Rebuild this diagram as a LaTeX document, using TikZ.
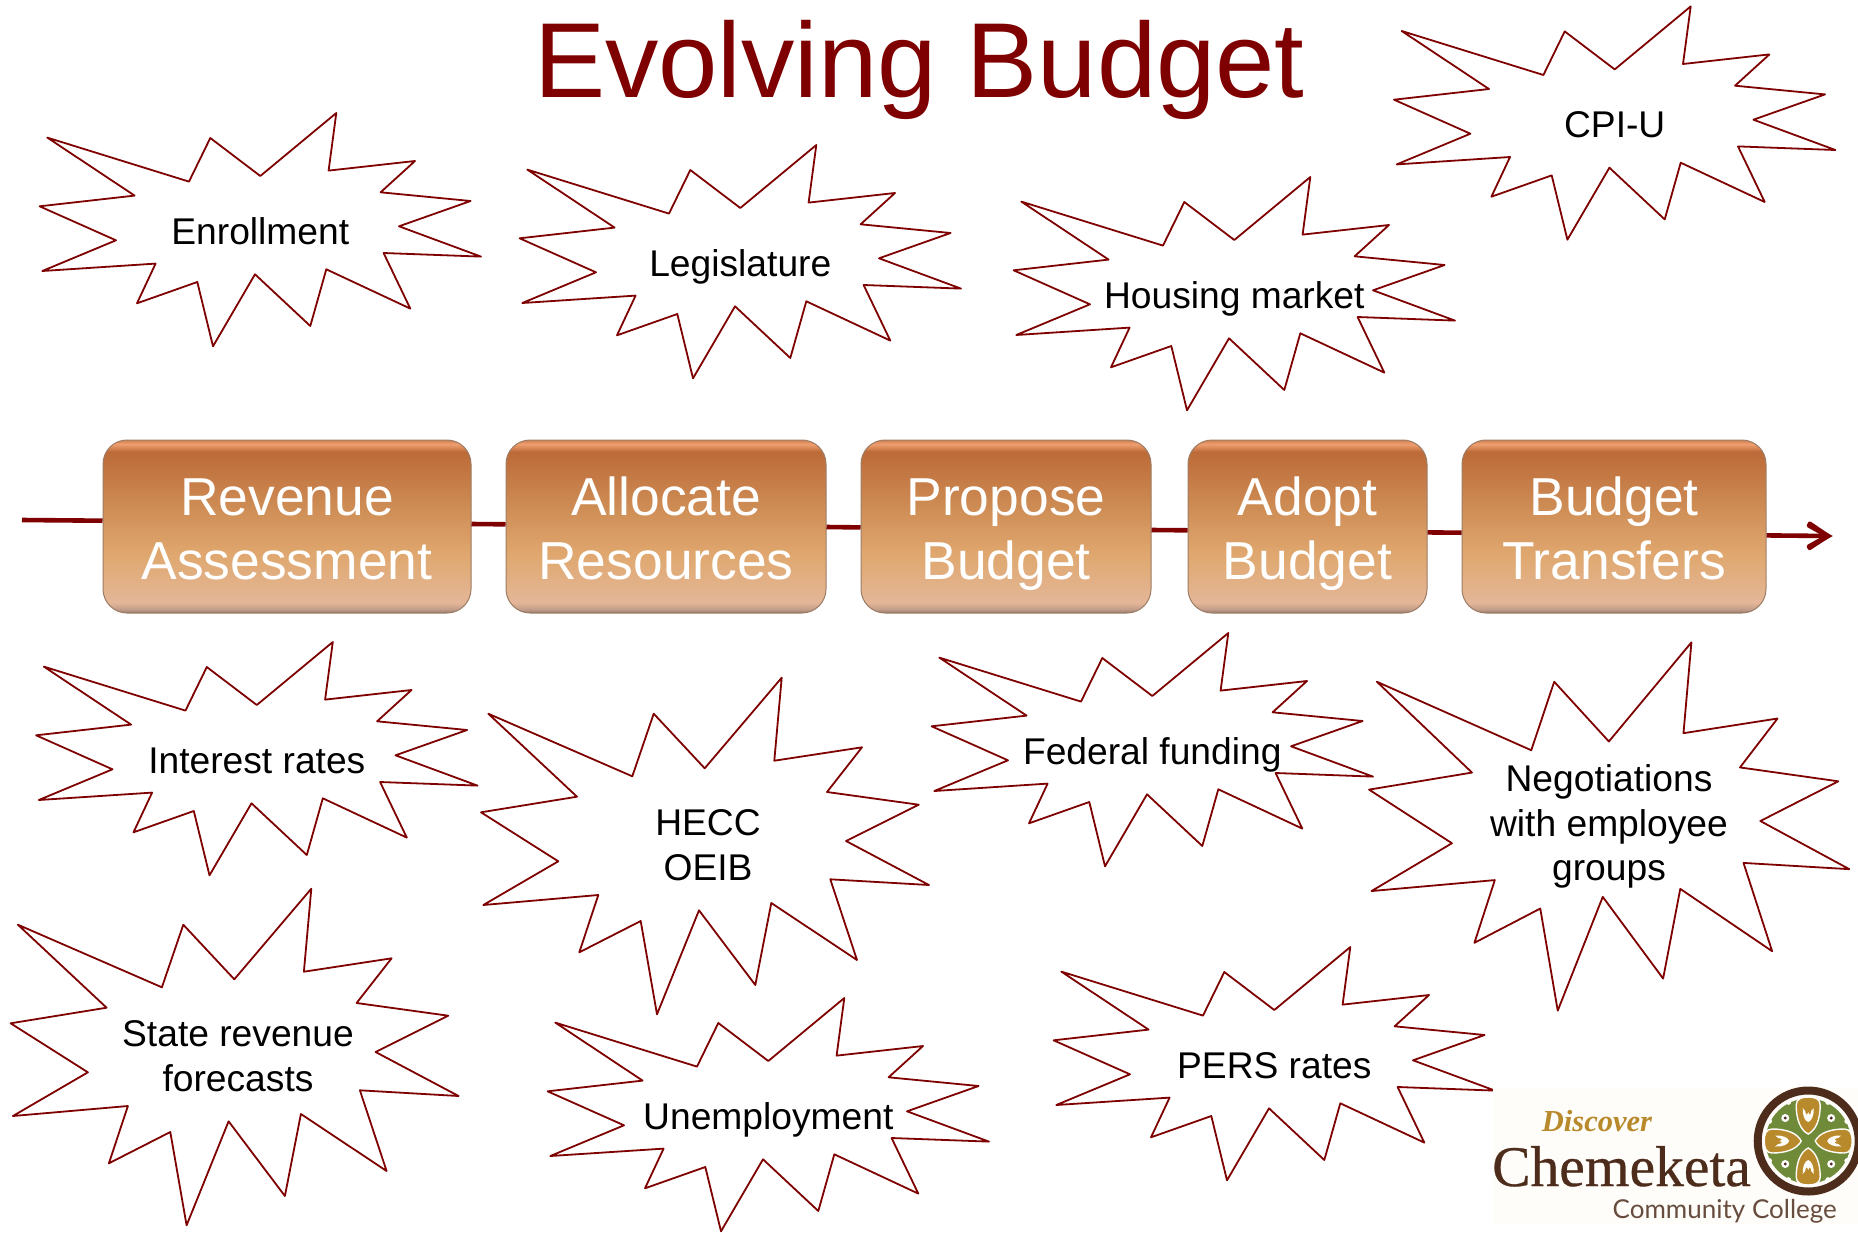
\documentclass[tikz,border=0pt]{standalone}
\usepackage{fontspec}
\setmainfont{Liberation Sans}
\newfontfamily\logoserif{Liberation Serif}
\newfontfamily\logoserifbold[FakeBold=0.5]{Liberation Serif}
\newfontfamily\logosans{Lato}
\usetikzlibrary{arrows.meta,calc}
\definecolor{maroon}{HTML}{7F0000}
\definecolor{bsa}{HTML}{907868}
\definecolor{bsb}{HTML}{C09C88}
\definecolor{bsc}{HTML}{E4B698}
\definecolor{bsd}{HTML}{E2B28A}
\definecolor{bse}{HTML}{E0A870}
\definecolor{bsf}{HTML}{D09058}
\definecolor{bsg}{HTML}{BC6A38}
\definecolor{bsh}{HTML}{F0A070}
\definecolor{bsi}{HTML}{D08050}
\definecolor{logobrown}{HTML}{4D2C1C}
\definecolor{logogold}{HTML}{B98A2C}
\definecolor{logogreen}{HTML}{6F8B3A}
\definecolor{logopaper}{HTML}{FEFDF9}
\pgfdeclareverticalshading{boxshade}{100bp}{color(0bp)=(bsa); color(25bp)=(bsa); color(26bp)=(bsb); color(28bp)=(bsc); color(32.5bp)=(bsd); color(41.5bp)=(bse); color(54bp)=(bsf); color(71.6bp)=(bsg); color(73.8bp)=(bsh); color(75bp)=(bsi); color(100bp)=(bsi)}
\newcommand\smallpoly{(-213,-92.7)--(-71.3,-48.7)--(-50,-92.3)--(0,-54.3)--(76,-117.3)--(68.3,-59.7)--(154.7,-69.3)--(120.3,-38)--(210.3,-29.3)--(138.7,-4)--(220.7,26.3)--(123.3,22.7)--(150,78.3)--(66,39)--(50,95.7)--(-5.3,44)--(-47.3,116)--(-63,51.7)--(-123.3,73)--(-104.7,33.3)--(-218,40.7)--(-144.3,10)--(-220.7,-24)--(-125.7,-34.7)--cycle}
\newcommand\bigpoly{(-219.7,-130.3)--(-75.7,-67.7)--(-54.3,-130.3)--(-3.3,-75.7)--(73.7,-166.3)--(66.3,-83.3)--(154,-96.7)--(119,-52)--(210.7,-39.3)--(138,-3)--(221,41)--(122.3,35.3)--(149,116)--(63.3,59)--(47.3,141)--(-9,66.3)--(-51,170.3)--(-67.3,77)--(-128.7,108.3)--(-109.7,51)--(-224.7,61)--(-149.7,17.3)--(-227,-31.7)--(-131,-47.3)--cycle}
\newcommand\lin{\rule[-13.3pt]{0pt}{44.5pt}}
\newcommand\bln{\rule[-11.5pt]{0pt}{64.3pt}}
\tikzset{
  burst/.style={draw=maroon,line width=1.8pt,line join=round},
  bursttext/.style={inner sep=0pt,align=center,text=black,font=\fontsize{37.2}{44.5}\selectfont},
  stagebox/.style={rectangle,rounded corners=24pt,shading=boxshade,draw=bsa!80!bsf,line width=1pt,inner sep=0pt,minimum height=173pt,align=center,text=white,font=\fontsize{53.4}{64.3}\selectfont},
  flow/.style={draw=maroon,line width=4.6pt},
  petal/.style={fill=logogold,draw=logopaper,line width=1.4pt}
}
\newcommand\smallburst[4]{%
  \draw[burst,shift={(#2+260.3,#3+230.3)}] \smallpoly;
  \node[bursttext] (#1) at (#2+260.3,#3+235.4) {\lin #4};
}
\begin{document}
\begin{tikzpicture}[x=1pt,y=-1pt]
\useasboundingbox (0,0) rectangle (1858,1232);
\fill[white] (0,0) rectangle (1858,1232);

\node[inner sep=0pt,anchor=base,text=maroon,font=\fontsize{106.6}{110}\selectfont] (title) at (919.5,97) {Evolving Budget};

% process line and stages
\node[stagebox,minimum width=368pt] (rev) at (287,526.5) {\bln Revenue\\\bln Assessment};
\node[stagebox,minimum width=320pt] (alloc) at (666,526.5) {\bln Allocate\\\bln Resources};
\node[stagebox,minimum width=290pt] (prop) at (1006,526.5) {\bln Propose\\\bln Budget};
\node[stagebox,minimum width=239pt] (adopt) at (1307.5,526.5) {\bln Adopt\\\bln Budget};
\node[stagebox,minimum width=304pt] (trans) at (1614,526.5) {\bln Budget\\\bln Transfers};
\coordinate (start) at (22,520);
\coordinate (end) at (1830,536);
\draw[flow] (start) -- ($(rev.west)+(0,-5.8)$);
\draw[flow] ($(rev.east)+(0,-2.5)$) -- ($(alloc.west)+(0,-2.2)$);
\draw[flow] ($(alloc.east)+(0,0.5)$) -- ($(prop.west)+(0,0.9)$);
\draw[flow] ($(prop.east)+(0,3.5)$) -- ($(adopt.west)+(0,3.8)$);
\draw[flow] ($(adopt.east)+(0,5.9)$) -- ($(trans.west)+(0,6.2)$);
\draw[flow,-{Straight Barb[length=18pt,width=24pt,round]}] ($(trans.east)+(0,8.9)$) -- (end);
\draw[flow,line cap=round,line join=miter] ($(end)+(-21,-10.5)$) -- ($(end)+(-2,0)$) -- ($(end)+(-21,10.5)$);

% bursts
\smallburst{enroll}{0}{0}{Enrollment}
\smallburst{legis}{480}{32}{Legislature}
\smallburst{housing}{974}{64}{Housing market}
\smallburst{cpi}{1354.4}{-106.6}{CPI-U}
\smallburst{interest}{-3.5}{529}{Interest rates}
\smallburst{federal}{892}{520}{Federal funding}
\smallburst{unemp}{508}{885}{Unemployment}
\smallburst{pers}{1014}{834}{PERS rates}

\draw[burst,shift={(708,844)}] \bigpoly;
\node[bursttext] (hecc) at (708,848.8) {\lin HECC\\\lin OEIB};
\draw[burst,shift={(237.6,1055)}] \bigpoly;
\node[bursttext] (state) at (238,1059.8) {\lin State revenue\\\lin forecasts};
\draw[burst,shift={(1612.4,824.3)},xscale=1.072,yscale=1.094] \bigpoly;
\node[bursttext] (nego) at (1609,827.5) {\lin Negotiations\\\lin with employee\\\lin groups};

% logo
\fill[logopaper] (1493,1087) rectangle (1858,1225);
\node[inner sep=0pt,anchor=base west,text=logogold,font=\logoserif\bfseries\itshape\fontsize{30.5}{32}\selectfont] (discover) at (1541.7,1131) {Discover};
\node[inner sep=0pt,anchor=base west,text=logobrown,font=\logoserifbold\fontsize{57.5}{58}\selectfont] (chem) at (1492,1186) {Chemeketa};
\node[inner sep=0pt,anchor=base west,text=logobrown!85,font=\logosans\fontsize{26}{27}\selectfont] (cc) at (1612.5,1218) {Community College};
\begin{scope}[shift={(1808.2,1141)}]
  \fill[logopaper] (0,0) circle (50);
  \fill[logogreen] (0,0) circle (42.5);
  \foreach \a in {0,90,180,270} {
    \foreach \b in {27,63} \fill[logopaper] ({\a+\b}:43.5) circle (2.6);
    \fill[white] ({\a+45}:32.5) circle (4);
    \fill[logobrown] ({\a+45}:32.5) circle (1.7);
    \begin{scope}[rotate=\a]
      \path[petal] (0,-7) .. controls (8,-11) and (12,-22) .. (12,-36) .. controls (12,-42) and (7,-44) .. (0,-44) .. controls (-7,-44) and (-12,-42) .. (-12,-36) .. controls (-12,-22) and (-8,-11) .. cycle;
      \fill[logopaper] (-5.5,-33) .. controls (-6,-26) and (-3.5,-20) .. (0,-19) .. controls (3.5,-20) and (6,-26) .. (5.5,-33) -- (3,-30) .. controls (2.5,-26) and (1,-25) .. (0,-29) .. controls (-1,-25) and (-2.5,-26) .. (-3,-30) -- cycle;
    \end{scope}
  }
  \draw[logobrown,line width=8pt] (0,0) circle (50.5);
\end{scope}
\end{tikzpicture}
\end{document}
